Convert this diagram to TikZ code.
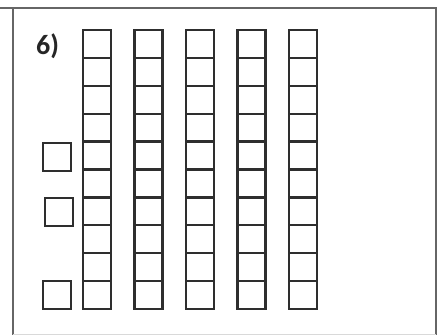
\documentclass[tikz,border=0pt]{standalone}
\usepackage{fontspec}
\setmainfont{Carlito}
\begin{document}
\begin{tikzpicture}[x=1pt,y=-1pt,
  cell/.style={draw=black!82,line width=2.3pt},
  frame/.style={draw=black!60,line width=2pt}]
\useasboundingbox (0,0) rectangle (437,335);
% frame
\draw[frame] (0,8) -- (437,8);
\draw[frame] (13,8) -- (13,335);
\draw[frame] (436,8) -- (436,335);
\draw[draw=black!15,line width=0.8pt] (13,334) -- (436,334);
% label
\node[anchor=base west,inner sep=0pt,text=black!85,font=\bfseries\fontsize{28}{28}\selectfont] (lbl) at (36,54) {6)};
% columns of ten
\foreach \i in {0,...,4}{
  \pgfmathsetmacro{\xl}{83+51.5*\i}
  \foreach \j in {0,...,9}{
    \draw[cell] (\xl,30+27.9*\j) rectangle ++(28,27.9);
  }
}
% single units
\draw[cell] (43,143) rectangle ++(28,28);
\draw[cell] (45,198) rectangle ++(28,28);
\draw[cell] (43,281) rectangle ++(28,28);
\end{tikzpicture}
\end{document}
